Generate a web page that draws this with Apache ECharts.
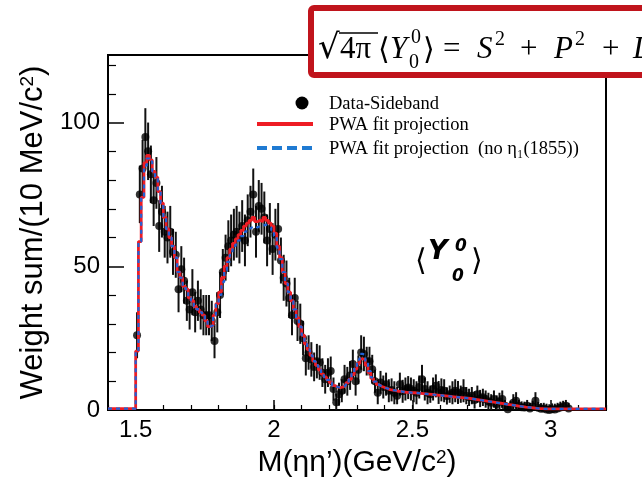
<!DOCTYPE html>
<html>
<head>
<meta charset="utf-8">
<script src="https://cdn.jsdelivr.net/npm/echarts@6.0.0/dist/echarts.min.js"></script>
<style>
html,body{margin:0;padding:0;background:#fff;}
#chart{width:642px;height:483px;}
</style>
</head>
<body>
<div id="chart"></div>
<script>
// ---- binning (10 MeV bins) ----
const binWidth = 0.01;
const fitStart = 1.40;      // first fit-histogram bin low edge (GeV)
const fitEnd = 3.20;
const dataStart = 1.505;    // first data bin centre (GeV)

// PWA fit projection (bins 1.40 .. 3.19)
const fitValues = [
  0.5,0.5,0.5,0.5,0.5,0.5,0.5,0.5,0.5,0.5,
  20.5,58.6,74,86,88.6,87,83,81,76,72,
  67,63,60,57,53,48,46,43,42,39,
  38,36,35,34,33,31,29,29.5,33,37,
  41,46,50,53,56,58,59.5,61,62.5,64,
  65,66,67,65.5,66,65.5,67,66,65,64,
  61.5,57,53,48,44,41,38,35,32,29,
  26,23,21,19,17,15.5,14,12.5,11.5,10.5,
  9.5,8.5,8,7.8,8,8.6,9.5,10.7,12.3,14.2,
  16.2,17.8,17.6,15.5,13,11,9.8,8.8,8.2,7.8,
  7.5,7.1,6.9,6.8,6.5,6.5,6.3,6.1,6.1,6,
  6,5.9,5.8,5.7,5.6,5.5,5.4,5.3,5.2,5.1,
  5,4.9,4.8,4.7,4.6,4.5,4.4,4.3,4.2,4.1,
  4,3.85,3.7,3.55,3.4,3.25,3.1,2.95,2.8,2.65,
  2.5,2.35,2.2,2.05,1.9,1.75,1.6,1.45,1.3,1.15,
  1,0.9,0.8,0.7,0.6,0.5,0.45,0.4,0.4,0.4,
  0.4,0.4,0.4,0.4,0.4,0.4,0.4,0.4,0.4,0.4,
  0.4,0.4,0.4,0.4,0.4,0.4,0.4,0.4,0.4,0.4
];

// PWA fit projection without eta1(1855)
const fitNoEta1Values = [
  0.5,0.5,0.5,0.5,0.5,0.5,0.5,0.5,0.5,0.5,
  20.5,58.6,74,85,87.5,86.5,83,80.5,76,72,
  67,63,60,57,53,48,46,43,42,39,
  38,36,35,34,33,31,29,29.5,33,37,
  40,44.5,48.5,51.5,54,56,57.5,59,60.5,62,
  63,63.5,64,63.5,64,64,64.5,64,63.5,62.5,
  60.5,56.5,52.5,48,44,41,38,35,32,29,
  26,23,21,19,17,15.5,14,12.5,11.5,10.5,
  9.5,8.5,8,7.8,8,8.6,9.5,10.7,12.8,15,
  17.5,19.5,19.3,16.5,13.5,11.3,9.9,8.8,8.2,7.8,
  7.5,7.1,6.9,6.8,6.5,6.5,6.3,6.1,6.1,6,
  6,5.9,5.8,5.7,5.6,5.5,5.4,5.3,5.2,5.1,
  5,4.9,4.8,4.7,4.6,4.5,4.4,4.3,4.2,4.1,
  4,3.85,3.7,3.55,3.4,3.25,3.1,2.95,2.8,2.65,
  2.5,2.35,2.2,2.05,1.9,1.75,1.6,1.45,1.3,1.15,
  1,0.9,0.8,0.7,0.6,0.5,0.45,0.4,0.4,0.4,
  0.4,0.4,0.4,0.4,0.4,0.4,0.4,0.4,0.4,0.4,
  0.4,0.4,0.4,0.4,0.4,0.4,0.4,0.4,0.4,0.4
];

// Data - Sideband (bin centres 1.505 .. 3.065)
const dataValues = [
  26,75,84,95,90,82,73,79,64,69,
  62,60,62,55,54,42,49,45,38,35,
  41,34,38,35,33,33,33,31,24,34,
  40,48,53,57,59,61,62,60,64,59,
  66,69,75,62,71,70,67,59,63,56,
  61,63,52,46,44,39,33,39,31,30,
  25,18,20,17.6,15,17,16.5,13,10.7,13,
  13.6,7.3,2.7,5.5,6.7,10.7,10,12,16,10,
  14,20,19.5,17,17,14.2,10,6,9.6,8,
  9,6.7,7,6,5,9,6.5,7.3,7.8,7.3,
  6.7,6,8,10.7,7.3,6,5.5,7.3,8.4,6.1,
  7,6.7,4.9,5.5,6,6.7,6.1,5.5,6.7,5,
  4.4,5,3.5,5.5,4,4.4,3.8,3,2.5,3.8,
  2.1,3,3.8,1.5,0.3,1.2,2.5,3.2,1.5,1,
  0.9,1.5,0.5,1.2,3.2,0.8,0.4,0.5,0.2,0,
  0.3,0.2,0.5,0.9,1.2,1.5,0.5
];
const dataErrors = [
  8,10,10,10,10,10,9,9,9,9,
  9,9,9,8,8,8,8,8,7,7,
  8,7,7,7,7,7,7,7,6,7,
  8,8,8,9,9,9,9,9,9,9,
  9,9,9,9,9,9,9,9,9,9,
  9,9,8,8,8,7,7,7,7,7,
  6,6,6,6,5,6,6,5,5,5,
  5,4,3,4,4,5,5,5,5,5,
  5,6,6,5,5,5,4,4,4,4,
  4,4,4,4,3,4,4,4,4,4,
  4,4,4,5,4,4,3,4,4,4,
  4,4,3,3,4,4,4,3,4,3,
  3,3,3,3,3,3,3,3,3,3,
  3,3,3,2,2,2,3,3,2,2,
  2,2,2,2,3,2,2,2,2,2,
  2,2,2,2,2,2,2
];

// axis ticks
const xMajorTicks = [1.5, 2, 2.5, 3];
const yMajorTicks = [0, 50, 100];
const yMinorTicks = [10,20,30,40,60,70,80,90,110,120];

// ---- build series data ----
function stepData(vals){
  const out = vals.map((v,i)=>[+(fitStart + i*binWidth).toFixed(3), v]);
  out.push([fitEnd, vals[vals.length-1]]);
  return out;
}
const pts = dataValues.map((v,i)=>[+(dataStart + i*binWidth).toFixed(3), v, dataErrors[i]]);

const RED = '#ee1c24';
const BLUE = '#1f62d8';
const YMAX = 123.5;

const chart = echarts.init(document.getElementById('chart'), null, {renderer:'canvas'});
const option = {
  animation:false,
  backgroundColor:'#fff',
  grid:{left:108, right:36, top:55, bottom:72, show:true, borderColor:'#000', borderWidth:2, backgroundColor:'transparent'},
  xAxis:[{
    type:'value', min:fitStart, max:fitEnd, position:'bottom',
    axisLine:{show:true, onZero:false, lineStyle:{color:'#000', width:2}},
    axisTick:{show:true, inside:true, length:10, customValues:xMajorTicks, lineStyle:{color:'#000', width:1.5}},
    axisLabel:{customValues:xMajorTicks, fontSize:24, color:'#000', fontFamily:'Liberation Sans, Arial, sans-serif', margin:8},
    splitLine:{show:false},
    name:'{t|M(ηη’)(GeV/c}{s|2}{t|)}',
    nameLocation:'middle', nameGap:38,
    nameTextStyle:{rich:{
      t:{fontSize:30, color:'#000', fontFamily:'Liberation Sans, Arial, sans-serif'},
      s:{fontSize:19, color:'#000', fontFamily:'Liberation Sans, Arial, sans-serif', verticalAlign:'top'}
    }}
  },{
    type:'value', min:fitStart, max:fitEnd, interval:0.1, position:'bottom',
    axisLine:{show:false},
    axisTick:{show:true, inside:true, length:5, lineStyle:{color:'#000', width:1.2}},
    axisLabel:{show:false}, splitLine:{show:false}
  }],
  yAxis:[{
    type:'value', min:0, max:YMAX, position:'left',
    axisLine:{show:true, onZero:false, lineStyle:{color:'#000', width:2}},
    axisTick:{show:true, inside:true, length:16, customValues:yMajorTicks, lineStyle:{color:'#000', width:1.5}},
    axisLabel:{customValues:yMajorTicks, fontSize:24, color:'#000', fontFamily:'Liberation Sans, Arial, sans-serif', margin:8},
    splitLine:{show:false},
    name:'{t|Weight sum/(10 MeV/c}{s|2}{t|)}',
    nameLocation:'middle', nameGap:56,
    nameTextStyle:{rich:{
      t:{fontSize:31, color:'#000', fontFamily:'Liberation Sans, Arial, sans-serif'},
      s:{fontSize:19, color:'#000', fontFamily:'Liberation Sans, Arial, sans-serif', verticalAlign:'top'}
    }}
  },{
    type:'value', min:0, max:YMAX, position:'left',
    axisLine:{show:false},
    axisTick:{show:true, inside:true, length:8, customValues:yMinorTicks, lineStyle:{color:'#000', width:1.2}},
    axisLabel:{show:false}, splitLine:{show:false}
  }],
  series:[
    {
      type:'custom', name:'err', xAxisIndex:0, yAxisIndex:0, clip:true, z:2,
      data:pts,
      renderItem:function(params, api){
        const x = api.value(0), v = api.value(1), e = api.value(2);
        const p1 = api.coord([x, v - e]);
        const p2 = api.coord([x, v + e]);
        return {type:'line', shape:{x1:p1[0], y1:p1[1], x2:p2[0], y2:p2[1]}, style:{stroke:'#111', lineWidth:2}};
      }
    },
    {
      type:'scatter', name:'Data-Sideband', data:pts.map(p=>[p[0],p[1]]),
      symbol:'circle', symbolSize:8, itemStyle:{color:'#000'}, z:3
    },
    {
      type:'line', name:'PWA fit projection', data:stepData(fitValues), step:'end',
      showSymbol:false, symbol:'none', lineStyle:{color:RED, width:2.8}, z:4
    },
    {
      type:'line', name:'PWA fit projection (no eta1)', data:stepData(fitNoEta1Values), step:'end',
      showSymbol:false, symbol:'none', lineStyle:{color:BLUE, width:2.2, type:[4,4]}, z:5
    }
  ],
  graphic:[
    // legend
    {type:'circle', shape:{cx:302, cy:103, r:6.5}, style:{fill:'#000'}, z:100},
    {type:'text', x:329, y:104, style:{text:'Data-Sideband', font:'18.5px "Liberation Serif", "Times New Roman", serif', fill:'#000', textVerticalAlign:'middle'}, z:100},
    {type:'line', shape:{x1:257, y1:124, x2:313, y2:124}, style:{stroke:RED, lineWidth:4}, z:100},
    {type:'text', x:329, y:125, style:{text:'PWA fit projection', font:'18.5px "Liberation Serif", "Times New Roman", serif', fill:'#000', textVerticalAlign:'middle'}, z:100},
    {type:'line', shape:{x1:257, y1:148, x2:313, y2:148}, style:{stroke:'#1f7ad2', lineWidth:4, lineDash:[10,5]}, z:100},
    {type:'text', x:329, y:149, style:{text:'PWA fit projection  (no η₁(1855))', font:'18.5px "Liberation Serif", "Times New Roman", serif', fill:'#000', textVerticalAlign:'middle'}, z:100},

    // <Y^0_0> annotation
    {type:'text', x:415, y:262, style:{text:'⟨', font:'30px "DejaVu Sans", sans-serif', fill:'#000', textVerticalAlign:'middle'}, z:100},
    {type:'text', x:428, y:252, style:{text:'Y', font:'italic bold 27px "DejaVu Sans", sans-serif', fill:'#000', textVerticalAlign:'middle'}, z:100},
    {type:'text', x:455, y:247, style:{text:'0', font:'italic bold 17px "DejaVu Sans", sans-serif', fill:'#000', textVerticalAlign:'middle'}, z:100},
    {type:'text', x:452, y:277, style:{text:'0', font:'italic bold 17px "DejaVu Sans", sans-serif', fill:'#000', textVerticalAlign:'middle'}, z:100},
    {type:'text', x:471, y:262, style:{text:'⟩', font:'30px "DejaVu Sans", sans-serif', fill:'#000', textVerticalAlign:'middle'}, z:100},

    // formula box
    {type:'rect', shape:{x:311, y:8, width:360, height:67, r:3}, style:{fill:'#fff', stroke:'#c0141c', lineWidth:6}, z:90},
    {type:'text', x:318, y:66, style:{text:'√', font:'34px "DejaVu Serif", serif', fill:'#000', textVerticalAlign:'bottom'}, z:100},
    {type:'line', shape:{x1:339, y1:33, x2:378, y2:33}, style:{stroke:'#000', lineWidth:1.5}, z:100},
    {type:'text', x:340, y:65, style:{text:'4π', font:'31px "Liberation Serif", serif', fill:'#000', textVerticalAlign:'bottom'}, z:100},
    {type:'text', x:378, y:66, style:{text:'⟨', font:'30px "DejaVu Serif", serif', fill:'#000', textVerticalAlign:'bottom'}, z:100},
    {type:'text', x:390, y:65, style:{text:'Y', font:'italic 31px "Liberation Serif", serif', fill:'#000', textVerticalAlign:'bottom'}, z:100},
    {type:'text', x:411, y:48, style:{text:'0', font:'20px "Liberation Serif", serif', fill:'#000', textVerticalAlign:'bottom'}, z:100},
    {type:'text', x:409, y:73, style:{text:'0', font:'20px "Liberation Serif", serif', fill:'#000', textVerticalAlign:'bottom'}, z:100},
    {type:'text', x:423, y:66, style:{text:'⟩', font:'30px "DejaVu Serif", serif', fill:'#000', textVerticalAlign:'bottom'}, z:100},
    {type:'text', x:443, y:65, style:{text:'=', font:'31px "Liberation Serif", serif', fill:'#000', textVerticalAlign:'bottom'}, z:100},
    {type:'text', x:477, y:65, style:{text:'S', font:'italic 31px "Liberation Serif", serif', fill:'#000', textVerticalAlign:'bottom'}, z:100},
    {type:'text', x:495, y:50, style:{text:'2', font:'20px "Liberation Serif", serif', fill:'#000', textVerticalAlign:'bottom'}, z:100},
    {type:'text', x:520, y:65, style:{text:'+', font:'31px "Liberation Serif", serif', fill:'#000', textVerticalAlign:'bottom'}, z:100},
    {type:'text', x:554, y:65, style:{text:'P', font:'italic 31px "Liberation Serif", serif', fill:'#000', textVerticalAlign:'bottom'}, z:100},
    {type:'text', x:575, y:50, style:{text:'2', font:'20px "Liberation Serif", serif', fill:'#000', textVerticalAlign:'bottom'}, z:100},
    {type:'text', x:602, y:65, style:{text:'+', font:'31px "Liberation Serif", serif', fill:'#000', textVerticalAlign:'bottom'}, z:100},
    {type:'text', x:633, y:65, style:{text:'D', font:'italic 31px "Liberation Serif", serif', fill:'#000', textVerticalAlign:'bottom'}, z:100}
  ]
};
chart.setOption(option);
</script>
</body>
</html>
